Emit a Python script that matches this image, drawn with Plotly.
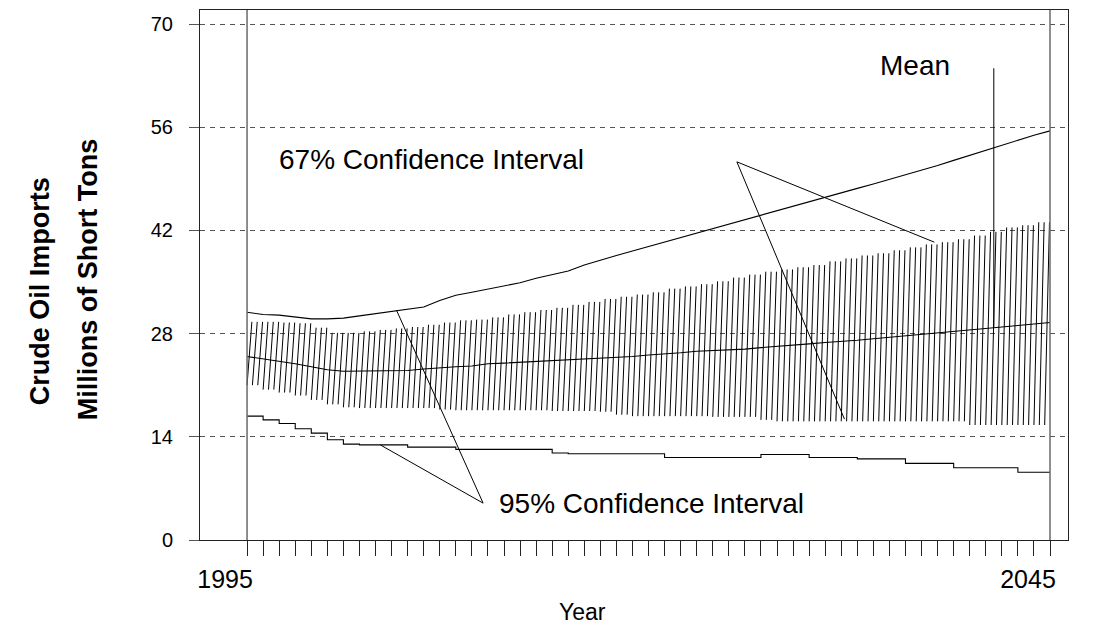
import plotly.graph_objects as go

# ---------------- data ----------------
years = list(range(1995, 2046))

mean = [24.9, 24.6, 24.3, 23.9, 23.5,
        23.1, 22.9, 22.9, 22.9, 22.9,
        23.0, 23.2, 23.4, 23.5, 23.6,
        23.9, 24.0, 24.1, 24.3, 24.4,
        24.5, 24.6, 24.7, 24.8, 24.9,
        25.1, 25.2, 25.4, 25.6, 25.7,
        25.8, 25.9, 26.1, 26.3, 26.4,
        26.6, 26.8, 26.9, 27.1, 27.3,
        27.5, 27.7, 27.9, 28.1, 28.2,
        28.4, 28.7, 28.9, 29.1, 29.3,
        29.5]

upper67 = [29.6, 29.6, 29.5, 29.4, 28.8,
           28.1, 28.1, 28.3, 28.5, 28.7,
           28.9, 29.2, 29.5, 29.8, 29.9,
           30.2, 30.6, 30.9, 31.2, 31.5,
           31.9, 32.3, 32.7, 33.0, 33.3,
           33.6, 34.1, 34.4, 34.7, 35.1,
           35.6, 36.0, 36.4, 36.7, 37.0,
           37.3, 37.8, 38.2, 38.6, 38.9,
           39.3, 39.7, 40.1, 40.4, 40.8,
           41.3, 41.8, 42.4, 42.7, 43.1,
           43.6]

lower67 = [21.0, 20.4, 20.0, 19.6, 19.0,
           18.4, 18.0, 17.9, 17.9, 17.9,
           17.9, 17.9, 17.7, 17.6, 17.6,
           17.6, 17.6, 17.6, 17.6, 17.5,
           17.5, 17.5, 17.4, 17.0, 16.8,
           16.8, 16.8, 16.8, 16.8, 16.7,
           16.7, 16.7, 16.3, 16.1, 16.1,
           16.1, 16.1, 16.1, 16.1, 16.1,
           16.1, 16.1, 16.1, 16.1, 16.1,
           15.6, 15.6, 15.6, 15.6, 15.6,
           15.6]

upper95 = [30.9, 30.6, 30.5, 30.3, 30.0,
           30.0, 30.1, 30.4, 30.7, 31.0,
           31.2, 31.6, 32.5, 33.2, 33.6,
           34.0, 34.4, 34.9, 35.5, 36.0,
           36.5, 37.3, 38.0, 38.6, 39.2,
           39.8, 40.4, 41.0, 41.6, 42.3,
           42.9, 43.5, 44.1, 44.7, 45.3,
           45.9, 46.5, 47.1, 47.7, 48.3,
           48.9, 49.5, 50.1, 50.8, 51.5,
           52.2, 52.9, 53.6, 54.3, 54.9,
           55.5]

lower95 = [16.8, 16.3, 15.8, 15.1, 14.5,
           13.6, 13.0, 12.9, 12.9, 12.9,
           12.6, 12.6, 12.6, 12.3, 12.3,
           12.3, 12.3, 12.3, 12.3, 11.8,
           11.7, 11.7, 11.7, 11.7, 11.7,
           11.7, 11.2, 11.2, 11.2, 11.2,
           11.2, 11.2, 11.6, 11.6, 11.6,
           11.2, 11.2, 11.2, 11.0, 11.0,
           11.0, 10.4, 10.4, 10.4, 9.8,
           9.8, 9.8, 9.8, 9.2, 9.2,
           9.2]

y_ticks = [0, 14, 28, 42, 56, 70]
x_label_years = [1995, 2045]

# annotation geometry (data coordinates)
label_mean = ("Mean", 2036.6, 64.4)
label_67 = ("67% Confidence Interval", 1996.85, 51.6)
label_95 = ("95% Confidence Interval", 2010.55, 5.0)
pointers = [
    ((2041.5, 64.0), (2041.5, 28.9)),
    ((2025.5, 51.3), (2037.8, 40.4)),
    ((2025.5, 51.3), (2032.2, 16.4)),
    ((2009.7, 5.0), (2003.3, 12.9)),
    ((2009.7, 5.0), (2004.3, 31.2)),
]

# ---------------- style ----------------
FONT = "Arial, Liberation Sans, sans-serif"
HATCH_PER_YEAR = 3
HATCH_SLANT = 0.3
LINE_W = 1.1

# hatch lines for the 67% band (stepped per year)
hx, hy = [], []
n_lines = (len(years) - 1) * HATCH_PER_YEAR
for k in range(n_lines):
    i = k // HATCH_PER_YEAR
    t = years[0] + k / HATCH_PER_YEAR
    hx += [t, t + HATCH_SLANT, None]
    hy += [lower67[i], upper67[i], None]

fig = go.Figure()
fig.add_trace(go.Scatter(x=hx, y=hy, mode="lines",
                         line=dict(color="black", width=1),
                         hoverinfo="skip", showlegend=False))
fig.add_trace(go.Scatter(x=years, y=upper95, mode="lines",
                         line=dict(color="black", width=LINE_W),
                         showlegend=False))
fig.add_trace(go.Scatter(x=years, y=lower95, mode="lines",
                         line=dict(color="black", width=LINE_W, shape="hv"),
                         showlegend=False))
fig.add_trace(go.Scatter(x=years, y=mean, mode="lines",
                         line=dict(color="black", width=LINE_W),
                         showlegend=False))

for (x0, y0), (x1, y1) in pointers:
    fig.add_trace(go.Scatter(x=[x0, x1], y=[y0, y1], mode="lines",
                             line=dict(color="black", width=1),
                             hoverinfo="skip", showlegend=False))

# vertical reference lines at first/last year
for yr in (years[0], years[-1]):
    fig.add_shape(type="line", xref="x", yref="paper", x0=yr, x1=yr, y0=0, y1=1,
                  line=dict(color="#6a6a6a", width=1.5), layer="above")

annos = []
for txt, x, y in (label_mean,):
    annos.append(dict(text=txt, x=x, y=y, xref="x", yref="y", showarrow=False,
                      xanchor="center", yanchor="middle",
                      font=dict(size=28, family=FONT, color="black")))
for txt, x, y in (label_67, label_95):
    annos.append(dict(text=txt, x=x, y=y, xref="x", yref="y", showarrow=False,
                      xanchor="left", yanchor="middle",
                      font=dict(size=28, family=FONT, color="black")))
annos.append(dict(text="<b>Crude Oil Imports</b>", x=-0.184, y=0.47, xref="paper",
                  yref="paper", showarrow=False, textangle=-90,
                  xanchor="center", yanchor="middle",
                  font=dict(size=27, family=FONT, color="black")))
annos.append(dict(text="<b>Millions of Short Tons</b>", x=-0.129, y=0.49, xref="paper",
                  yref="paper", showarrow=False, textangle=-90,
                  xanchor="center", yanchor="middle",
                  font=dict(size=27, family=FONT, color="black")))
annos.append(dict(text="Year", x=0.441, y=-0.136, xref="paper", yref="paper",
                  showarrow=False, xanchor="center", yanchor="middle",
                  font=dict(size=23, family=FONT, color="black")))

tick_text = [str(y) if y in x_label_years else "" for y in years]

fig.update_layout(
    width=1094, height=628,
    margin=dict(l=200, r=26, t=10, b=88),
    paper_bgcolor="white", plot_bgcolor="white",
    font=dict(family=FONT, color="black"),
    annotations=annos,
    xaxis=dict(range=[1992.07, 2046.12], tickvals=years, ticktext=tick_text,
               ticks="outside", ticklen=15, tickcolor="#222", tickwidth=1,
               showgrid=False, zeroline=False, showline=True, mirror=True,
               linecolor="#222", linewidth=1,
               tickfont=dict(size=25, family=FONT, color="black"),
               ticklabelshift=-22, ticklabelstandoff=2),
    yaxis=dict(range=[0, 71.9], tickvals=y_ticks,
               ticks="outside", ticklen=10, tickcolor="#555", tickwidth=1,
               showgrid=True, gridcolor="#555", griddash="5px,5px", gridwidth=1,
               zeroline=False, showline=True, mirror=True,
               linecolor="#222", linewidth=1,
               tickfont=dict(size=20, family=FONT, color="black"),
               ticklabelstandoff=12),
)

fig.write_html("out.html", config={"displayModeBar": False},
               post_script="document.body.style.margin='0';")
